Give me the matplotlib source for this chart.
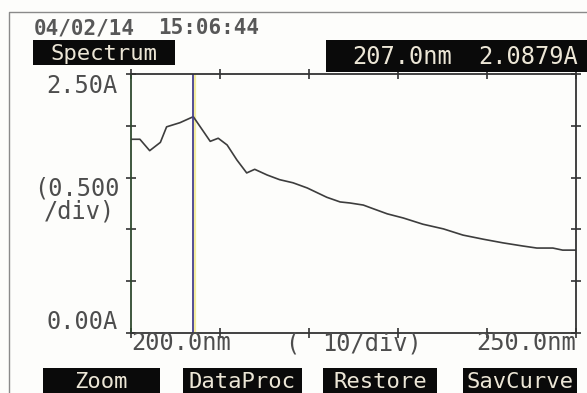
import matplotlib.pyplot as plt
from matplotlib.patches import Rectangle
from matplotlib.lines import Line2D

# 讀取的光譜資料 (nm, A)
wavelength = [200.0, 201.0, 202.1, 203.3, 204.0, 205.5, 207.0, 208.9, 209.8, 210.8,
              211.9, 213.0, 213.9, 215.3, 216.7, 218.2, 219.8, 222.0, 223.5, 224.6,
              226.1, 227.2, 228.8, 230.6, 232.8, 235.1, 237.3, 239.6, 241.8, 244.0,
              245.6, 247.4, 248.5, 250.0]
absorb = [1.87, 1.87, 1.76, 1.84, 1.99, 2.03, 2.088, 1.85, 1.88, 1.815,
          1.67, 1.545, 1.58, 1.525, 1.48, 1.45, 1.40, 1.31, 1.265, 1.255,
          1.235, 1.20, 1.15, 1.11, 1.05, 1.005, 0.945, 0.905, 0.87, 0.84,
          0.82, 0.82, 0.80, 0.80]
cursor_nm = 207.0
cursor_abs = 2.0879
x_min, x_max, x_step = 200.0, 250.0, 10
y_min, y_max, y_step = 0.0, 2.5, 0.5
buttons = ["Zoom", "DataProc", "Restore", "SavCurve"]
date_str = "04/02/14"
time_str = "15:06:44"

W, H = 587, 393
fig = plt.figure(figsize=(W / 100, H / 100), dpi=100)
fig.patch.set_facecolor("#fdfdfb")
mono = "DejaVu Sans Mono"


def fx(x):
    return x / W


def fy(y):
    return 1 - y / H


# 外框
fig.add_artist(Line2D([fx(9), fx(9), 1], [0, fy(12), fy(12)], color="#8a8a8a", lw=1))

# 繪圖區
ax = fig.add_axes([fx(131), fy(333), (576 - 131) / W, (333 - 74) / H])
ax.set_facecolor("none")
ax.plot(wavelength, absorb, color="#3d3d3d", lw=1.2)
ax.axvline(cursor_nm + 0.15, color="#f3eca0", lw=1.6, zorder=1)
ax.axvline(cursor_nm, color="#463f8c", lw=1.3, zorder=2)
ax.set_xlim(x_min, x_max)
ax.set_ylim(y_min, y_max)
ax.set_xticks([x_min + i * x_step for i in range(6)])
ax.set_yticks([y_min + i * y_step for i in range(6)])
ax.tick_params(direction="inout", length=7, width=1.2, color="#333333",
               top=True, right=True, labelbottom=False, labelleft=False)
for side in ["left", "right", "top", "bottom"]:
    ax.spines[side].set_color("#333333")
    ax.spines[side].set_linewidth(1.3)
ax.spines["left"].set_color("#2f4a2f")

gray = "#4d4d4d"
fig.text(fx(34), fy(28), date_str, family=mono, fontweight="bold", fontsize=15,
         color="#585858", va="center", ha="left")
fig.text(fx(158), fy(28), time_str, family=mono, fontweight="bold", fontsize=15,
         color="#585858", va="center", ha="left")

# 黑底標籤
def black_box(x0, x1, y0, y1, label, cx=None):
    fig.add_artist(Rectangle((fx(x0), fy(y1)), (x1 - x0) / W, (y1 - y0) / H,
                             transform=fig.transFigure, facecolor="#0a0a0a",
                             edgecolor="none"))
    if label:
        fig.text(fx(cx if cx else (x0 + x1) / 2), fy((y0 + y1) / 2 + 1), label,
                 family=mono, fontsize=16, color="#ece6d6", ha="center", va="center")


black_box(33, 175, 40, 65, "Spectrum")
black_box(326, 587, 40, 72, "")
fig.text(fx(402), fy(57), f"{cursor_nm:.1f}nm", family=mono, fontsize=17,
         color="#ece6d6", ha="center", va="center")
fig.text(fx(528), fy(57), f"{cursor_abs:.4f}A", family=mono, fontsize=17,
         color="#ece6d6", ha="center", va="center")

btn_x = [(43, 160), (183, 302), (323, 437), (463, 577)]
for (x0, x1), name in zip(btn_x, buttons):
    black_box(x0, x1, 368, 393, name)

# 軸標籤
fig.text(fx(118), fy(86), f"{y_max:.2f}A", family=mono, fontsize=17, color=gray,
         ha="right", va="center")
fig.text(fx(34), fy(188), f"({y_step:.3f}", family=mono, fontsize=17, color=gray,
         ha="left", va="center")
fig.text(fx(44), fy(211), "/div)", family=mono, fontsize=17, color=gray,
         ha="left", va="center")
fig.text(fx(118), fy(322), f"{y_min:.2f}A", family=mono, fontsize=17, color=gray,
         ha="right", va="center")
fig.text(fx(181), fy(343), f"{x_min:.1f}nm", family=mono, fontsize=17, color=gray,
         ha="center", va="center")
fig.text(fx(292), fy(343), "(", family=mono, fontsize=17, color=gray,
         ha="center", va="center")
fig.text(fx(372), fy(343), f"{x_step}/div)", family=mono, fontsize=17, color=gray,
         ha="center", va="center")
fig.text(fx(526), fy(343), f"{x_max:.1f}nm", family=mono, fontsize=17, color=gray,
         ha="center", va="center")

fig.savefig("out.png", dpi=100, facecolor=fig.get_facecolor())
